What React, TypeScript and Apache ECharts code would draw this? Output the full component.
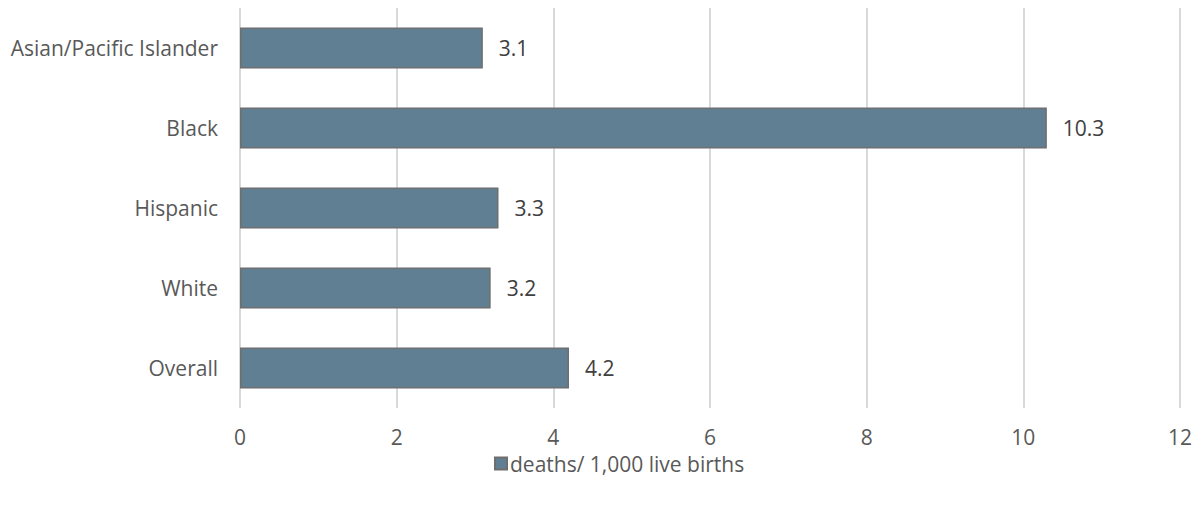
import React, { useEffect, useRef } from "react";
import * as echarts from "echarts";

const categories = ["Asian/Pacific Islander", "Black", "Hispanic", "White", "Overall"];
const rates = [3.1, 10.3, 3.3, 3.2, 4.2];
const seriesName = "deaths/ 1,000 live births";

const FONT = "'Open Sans', sans-serif";
const TEXT = "#595959";
const SIZE = 21;

export default function App() {
  const ref = useRef<HTMLDivElement>(null);

  useEffect(() => {
    if (!ref.current) return;
    const chart = echarts.init(ref.current, undefined, { renderer: "svg" });
    chart.setOption({
      animation: false,
      textStyle: { fontFamily: FONT },
      grid: {
        left: 240,
        right: 16,
        top: 8,
        bottom: 97,
        containLabel: false,
        outerBoundsMode: "none",
      },
      legend: {
        bottom: 26,
        left: 489,
        icon: "rect",
        itemWidth: 12,
        itemHeight: 12,
        itemGap: 4,
        textStyle: { color: TEXT, fontSize: SIZE, fontFamily: FONT, padding: [0, 0, 0, -2] },
        data: [seriesName],
      },
      xAxis: {
        type: "value",
        min: 0,
        max: 12,
        interval: 2,
        axisLine: { show: false },
        axisTick: { show: false },
        axisLabel: { color: TEXT, fontSize: SIZE, margin: 18, fontFamily: FONT },
        splitLine: { lineStyle: { color: "#d9d9d9", width: 2 } },
      },
      yAxis: {
        type: "category",
        inverse: true,
        data: categories,
        axisLine: { show: false },
        axisTick: { show: false },
        axisLabel: { color: TEXT, fontSize: SIZE, margin: 22, fontFamily: FONT },
      },
      series: [
        {
          name: seriesName,
          type: "bar",
          data: rates,
          barWidth: "51%",
          itemStyle: { color: "#607f92", borderColor: "#6e6e6e", borderWidth: 1.5 },
          label: {
            show: true,
            position: "right",
            distance: 16,
            color: "#404040",
            fontSize: SIZE,
            fontFamily: FONT,
            formatter: (p: any) => p.value.toFixed(1),
          },
        },
      ],
    });
    return () => chart.dispose();
  }, []);

  return (
    <div
      ref={ref}
      style={{ position: "absolute", left: 0, top: 0, width: 1196, height: 505 }}
    />
  );
}
